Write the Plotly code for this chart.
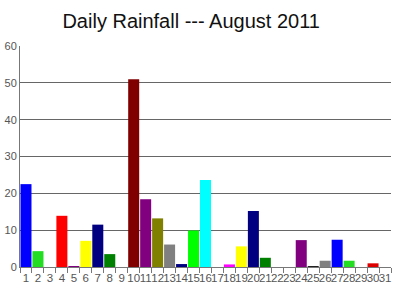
import plotly.graph_objects as go

days = [str(d) for d in range(1, 32)]
rain = [22.5, 4.3, 0, 13.9, 0.2, 7.1, 11.5, 3.5, 0, 51.0,
        18.4, 13.2, 6.1, 0.8, 9.9, 23.6, 0, 0.7, 5.6, 15.2,
        2.5, 0, 0, 7.3, 0.2, 1.7, 7.4, 1.7, 0, 1.0, 0]
colors = ["#0000ff", "#22dd22", "#ffffff", "#ff0000", "#800080", "#ffff00", "#000080", "#008000", "#ffffff", "#800000",
          "#800080", "#808000", "#808080", "#000080", "#00ff00", "#00ffff", "#ffffff", "#ff00ff", "#ffff00", "#000080",
          "#008000", "#ffffff", "#ffffff", "#800080", "#222222", "#808080", "#0000ff", "#22dd22", "#ffffff", "#dd0000", "#ffffff"]

fig = go.Figure(go.Bar(x=days, y=rain, marker=dict(color=colors, line=dict(width=0))))

fig.update_layout(
    width=400, height=300,
    margin=dict(l=20, r=9, t=46, b=33),
    paper_bgcolor="white", plot_bgcolor="white",
    bargap=0.08,
    showlegend=False,
    title=dict(text="Daily Rainfall --- August 2011", x=0.478, xanchor="center", y=0.93, yanchor="middle",
               font=dict(family="Liberation Sans, Arial", size=20, color="#111111")),
    font=dict(family="Liberation Sans, Arial", size=11, color="#444444"),
)
fig.update_xaxes(type="category", range=[-0.5, 30.5], showgrid=False, showline=True, linecolor="#777777", linewidth=1,
                 tickmode="array", tickvals=days, ticktext=days, tickangle=0, automargin=False,
                 ticks="outside", tickson="boundaries", ticklen=5, tickcolor="#777777",
                 tickfont=dict(size=11.5, color="#555555"))
fig.update_yaxes(range=[0, 60], dtick=10, showgrid=True, gridcolor="#666666", gridwidth=1, showline=True,
                 linecolor="#777777", linewidth=1, zeroline=False, ticks="", automargin=False,
                 tickfont=dict(size=11, color="#555555"))

fig.write_html("out.html")
